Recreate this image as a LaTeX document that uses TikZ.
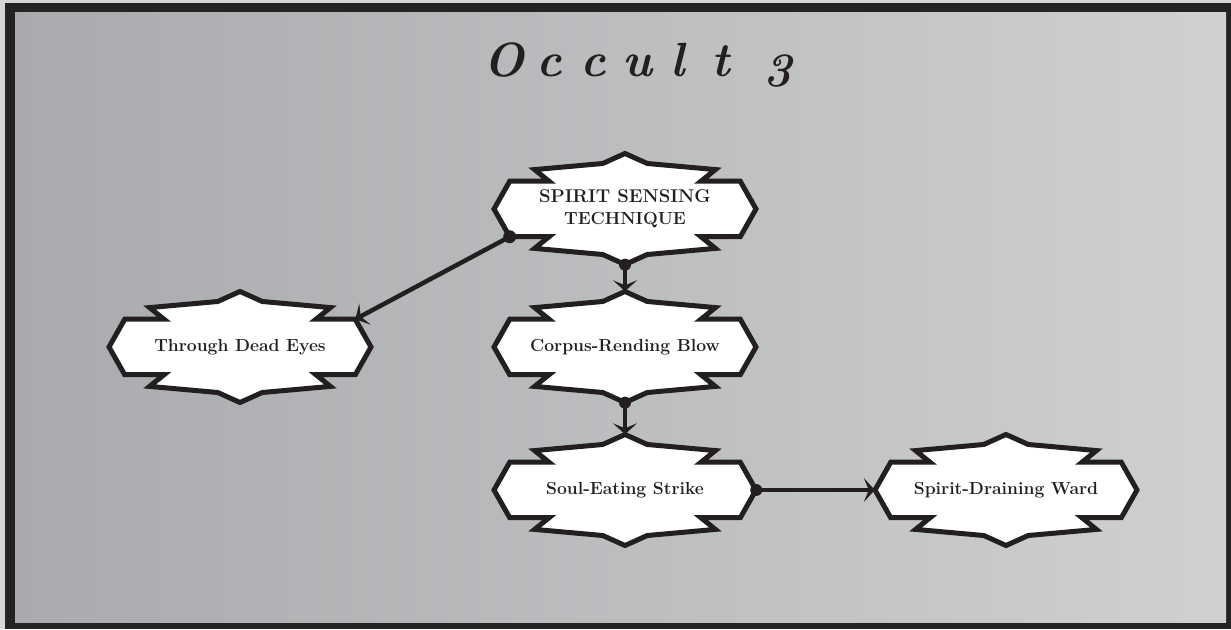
\documentclass[tikz,border=0pt]{standalone}
\usetikzlibrary{arrows.meta}
\definecolor{ink}{HTML}{231F20}
\definecolor{framec}{HTML}{252324}
\definecolor{bgL}{HTML}{A8AAAD}
\definecolor{bgR}{HTML}{CFD0D1}
\definecolor{marginc}{HTML}{D6D6D6}
\pgfdeclarelayer{bglayer}
\pgfdeclarelayer{ornlayer}
\pgfsetlayers{bglayer,ornlayer,main}
\tikzset{
  orntext/.style={draw=none, inner sep=0pt, minimum width=262pt, minimum height=111pt,
    align=center, text=ink, font=\fontsize{17.5}{22}\selectfont\bfseries},
  ornline/.style={draw=ink, fill=white, line width=5pt, line join=miter, miter limit=12},
  link/.style={draw=ink, line width=4.5pt, -{Stealth[length=11pt,width=24pt,inset=5pt]}},
  linkdot/.style={fill=ink},
  titlestyle/.style={anchor=base west, inner sep=0pt, text=ink,
    font=\fontsize{48}{48}\selectfont\bfseries\itshape},
}
\newcommand\ornbox[3]{%
  \node[orntext] (#1) at (#2) {#3};
  \begin{pgfonlayer}{ornlayer}
  \begin{scope}[shift={(#1.center)}, x=131pt, y=55.5pt]
    \draw[ornline] (-1,0) -- (-0.88,0.5) -- (-0.58,0.5) -- (-0.69,0.71) -- (-0.17,0.82)
      -- (0,1) -- (0.17,0.82) -- (0.69,0.71) -- (0.58,0.5) -- (0.88,0.5) -- (1,0)
      -- (0.88,-0.5) -- (0.58,-0.5) -- (0.69,-0.71) -- (0.17,-0.82) -- (0,-1)
      -- (-0.17,-0.82) -- (-0.69,-0.71) -- (-0.58,-0.5) -- (-0.88,-0.5) -- cycle;
    \coordinate (#1-nw) at (-0.88,0.5);
    \coordinate (#1-ne) at (0.88,0.5);
    \coordinate (#1-sw) at (-0.88,-0.5);
    \coordinate (#1-se) at (0.88,-0.5);
  \end{scope}
  \end{pgfonlayer}%
}
\begin{document}
\begin{tikzpicture}[x=1pt,y=1pt]
\useasboundingbox (0,0) rectangle (1231,629);
\begin{pgfonlayer}{bglayer}
  \fill[marginc] (0,0) rectangle (1231,629);
  \fill[framec] (5,0) rectangle (1231,626);
  \shade[left color=bgL, right color=bgR] (15,7) rectangle (1226,616);
\end{pgfonlayer}

\node[titlestyle] (title) at (481,552) {\makebox[45.5pt]{O}\makebox[45pt]{c}\makebox[44pt]{c}\makebox[43.5pt]{u}\makebox[37.5pt]{l}\makebox[49pt]{t}\makebox[64.5pt]{\raisebox{-10pt}{3}}};

\ornbox{spirit}{625,420}{\fontsize{18.5}{22}\selectfont\bfseries SPIRIT SENSING\\TECHNIQUE}
\ornbox{dead}{240,282}{Through Dead Eyes}
\ornbox{corpus}{625,282}{Corpus-Rending Blow}
\ornbox{soul}{625,139}{Soul-Eating Strike}
\ornbox{ward}{1006,139}{Spirit-Draining Ward}

\draw[link] (spirit.south) -- (corpus.north);
\fill[linkdot] (spirit.south) circle (6);
\draw[link] (spirit-sw) -- (dead-ne);
\fill[linkdot] (spirit-sw) circle (6.5);
\draw[link] (corpus.south) -- (soul.north);
\fill[linkdot] (corpus.south) circle (6);
\draw[link] (soul.east) -- (ward.west);
\fill[linkdot] (soul.east) circle (6);
\end{tikzpicture}
\end{document}
